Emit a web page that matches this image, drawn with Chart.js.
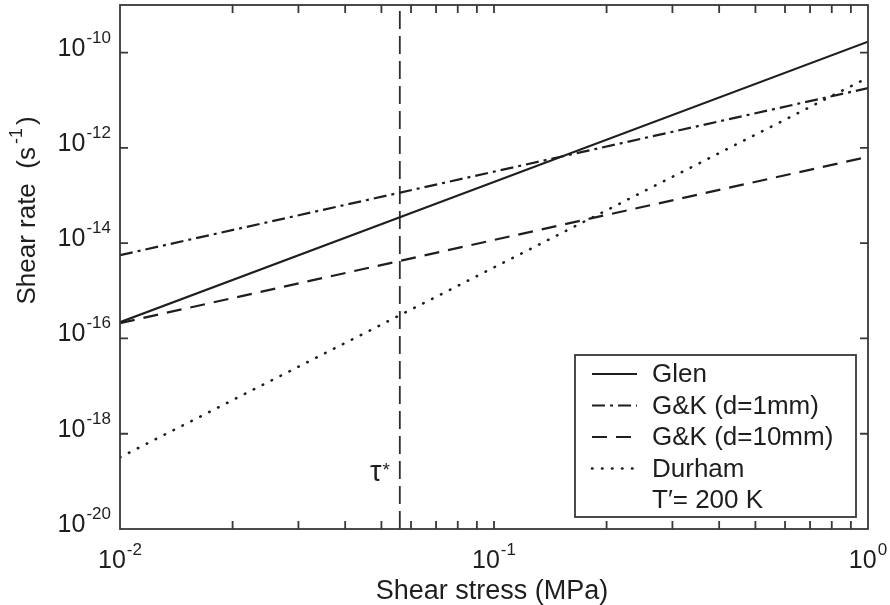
<!DOCTYPE html>
<html>
<head>
<meta charset="utf-8">
<title>Shear rate vs shear stress</title>
<script src="https://cdn.jsdelivr.net/npm/chart.js@4.4.1/dist/chart.umd.min.js"></script>
<style>
  html, body { margin: 0; padding: 0; background: #ffffff; }
  #wrap { width: 890px; height: 605px; }
</style>
</head>
<body>
<div id="wrap"><canvas id="c" width="890" height="605"></canvas></div>
<script>
// Shear stress (MPa) at the two ends of the plotted range
const stress = [0.01, 1];
// Shear rate (s^-1) of each flow law at those stresses
const glen = [2.2e-16, 1.7e-10];
const gk1mm = [5.6e-15, 1.8e-11];
const gk10mm = [2.1e-16, 6.5e-13];
const durham = [3.2e-19, 3.0e-11];
// Transition stress marked by the vertical line
const tauStar = 0.056;
const tauSpan = [1e-20, 1e-9];
// Axis decades
const xTickExps = [-2, -1, 0];
const yTickExps = [-20, -18, -16, -14, -12, -10];
const seriesLabels = ['Glen', 'G&K (d=1mm)', 'G&K (d=10mm)', 'Durham'];
const legendNote = 'T\u2032= 200 K';

const INK = '#1e1e1e';
const FRAME = '#383838';
const FONT = '"Liberation Sans", Arial, Helvetica, sans-serif';

const styles = [
  { dash: [], cap: 'butt', width: 2.2 },
  { dash: [13, 5, 3, 5], cap: 'butt', width: 2.2 },
  { dash: [15, 9], cap: 'butt', width: 2.2 },
  { dash: [0.5, 9.5], cap: 'round', width: 2.6 }
];
const seriesValues = [glen, gk1mm, gk10mm, durham];

function pts(xs, ys) { return xs.map((v, i) => ({ x: v, y: ys[i] })); }

const datasets = seriesValues.map((vals, i) => ({
  label: seriesLabels[i],
  data: pts(stress, vals),
  showLine: true,
  borderColor: INK,
  borderWidth: styles[i].width,
  borderDash: styles[i].dash,
  borderCapStyle: styles[i].cap,
  pointRadius: 0,
  fill: false
}));
datasets.push({
  label: 'tau*',
  data: pts([tauStar, tauStar], tauSpan),
  showLine: true,
  borderColor: '#2e2e2e',
  borderWidth: 1.8,
  borderDash: [18, 7],
  pointRadius: 0,
  fill: false
});

// Draws "10" with a raised exponent; align = 'center' or 'right'
function drawPow(ctx, exp, x, baseline, align, big, small) {
  ctx.font = big + 'px ' + FONT;
  const w10 = ctx.measureText('10').width;
  ctx.font = small + 'px ' + FONT;
  const es = String(exp);
  const we = ctx.measureText(es).width;
  const total = w10 + we + 1;
  const start = align === 'center' ? x - total / 2 : x - total;
  ctx.textAlign = 'left';
  ctx.textBaseline = 'alphabetic';
  ctx.font = big + 'px ' + FONT;
  ctx.fillText('10', start, baseline);
  ctx.font = small + 'px ' + FONT;
  ctx.fillText(es, start + w10 + 1, baseline - 13);
}

const decor = {
  id: 'decor',
  afterDatasetsDraw(chart) {
    const { ctx, chartArea: a, scales: { x, y } } = chart;
    ctx.save();
    // frame
    ctx.strokeStyle = FRAME;
    ctx.lineWidth = 1.8;
    ctx.strokeRect(a.left, a.top, a.right - a.left, a.bottom - a.top);
    // x ticks (major + minor), inward on bottom and top
    const tl = 8;
    const xMax = Math.pow(10, xTickExps[xTickExps.length - 1]);
    ctx.beginPath();
    for (let d = xTickExps[0]; d < xTickExps[xTickExps.length - 1]; d++) {
      for (let m = 1; m <= 9; m++) {
        const v = m * Math.pow(10, d);
        if (v > xMax) break;
        const px = x.getPixelForValue(v);
        if (px <= a.left + 0.5 || px >= a.right - 0.5) continue;
        ctx.moveTo(px, a.bottom); ctx.lineTo(px, a.bottom - tl);
        ctx.moveTo(px, a.top); ctx.lineTo(px, a.top + tl);
      }
    }
    // y ticks at labelled decades, inward on left and right
    yTickExps.forEach(e => {
      const py = y.getPixelForValue(Math.pow(10, e));
      if (py >= a.bottom - 0.5 || py <= a.top + 0.5) return;
      ctx.moveTo(a.left, py); ctx.lineTo(a.left + tl, py);
      ctx.moveTo(a.right, py); ctx.lineTo(a.right - tl, py);
    });
    ctx.stroke();

    ctx.fillStyle = INK;
    // x tick labels
    xTickExps.forEach(e => {
      const px = x.getPixelForValue(Math.pow(10, e));
      drawPow(ctx, e, px, a.bottom + 39, 'center', 25, 17);
    });
    // y tick labels
    yTickExps.forEach(e => {
      const py = y.getPixelForValue(Math.pow(10, e));
      drawPow(ctx, e, a.left - 9, py + 3, 'right', 25, 17);
    });

    // x axis title
    ctx.font = '27px ' + FONT;
    ctx.textAlign = 'center';
    ctx.textBaseline = 'alphabetic';
    ctx.fillText('Shear stress (MPa)', (a.left + a.right) / 2 - 2, 599);

    // y axis title, rotated
    ctx.save();
    ctx.translate(35, 209);
    ctx.rotate(-Math.PI / 2);
    const parts = [['Shear rate  (s', 26, 0], ['-1', 18, -13], [')', 26, 0]];
    let tw = 0;
    parts.forEach(p => { ctx.font = p[1] + 'px ' + FONT; tw += ctx.measureText(p[0]).width + 3; });
    let cx = -tw / 2;
    ctx.textAlign = 'left';
    parts.forEach(p => {
      ctx.font = p[1] + 'px ' + FONT;
      ctx.fillText(p[0], cx, p[2]);
      cx += ctx.measureText(p[0]).width + 3;
    });
    ctx.restore();

    // tau* label beside the vertical line
    const tx = x.getPixelForValue(tauStar);
    ctx.font = '29px ' + FONT;
    ctx.textAlign = 'left';
    const wt = ctx.measureText('\u03c4').width;
    ctx.font = '19px ' + FONT;
    const ws = ctx.measureText('*').width;
    const sx = tx - 11 - wt - ws;
    ctx.font = '29px ' + FONT;
    ctx.fillText('\u03c4', sx, 481);
    ctx.font = '19px ' + FONT;
    ctx.fillText('*', sx + wt + 1, 476);

    // legend box
    const bx = 575, by = 355, bw = 281, bh = 162;
    ctx.fillStyle = '#ffffff';
    ctx.fillRect(bx, by, bw, bh);
    ctx.strokeStyle = FRAME;
    ctx.lineWidth = 1.8;
    ctx.strokeRect(bx, by, bw, bh);
    const rowY = [374, 405.5, 437, 468.5];
    ctx.font = '26px ' + FONT;
    ctx.textBaseline = 'middle';
    chart.data.datasets.slice(0, seriesLabels.length).forEach((ds, i) => {
      ctx.strokeStyle = INK;
      ctx.lineWidth = ds.borderWidth;
      ctx.lineCap = ds.borderCapStyle;
      ctx.setLineDash(ds.borderDash);
      ctx.beginPath();
      ctx.moveTo(592, rowY[i]);
      ctx.lineTo(637, rowY[i]);
      ctx.stroke();
      ctx.setLineDash([]);
      ctx.lineCap = 'butt';
      ctx.fillStyle = INK;
      ctx.fillText(ds.label, 652, rowY[i] + 1);
    });
    ctx.fillText(legendNote, 652, 501);
    ctx.restore();
  }
};

new Chart(document.getElementById('c'), {
  type: 'scatter',
  data: { datasets },
  options: {
    responsive: false,
    animation: false,
    layout: { padding: { left: 120, right: 22, top: 5, bottom: 76 } },
    plugins: { legend: { display: false }, tooltip: { enabled: false } },
    scales: {
      x: { type: 'logarithmic', min: 0.01, max: 1, display: false },
      y: { type: 'logarithmic', min: 1e-20, max: 1e-9, display: false }
    }
  },
  plugins: [decor]
});
</script>
</body>
</html>
